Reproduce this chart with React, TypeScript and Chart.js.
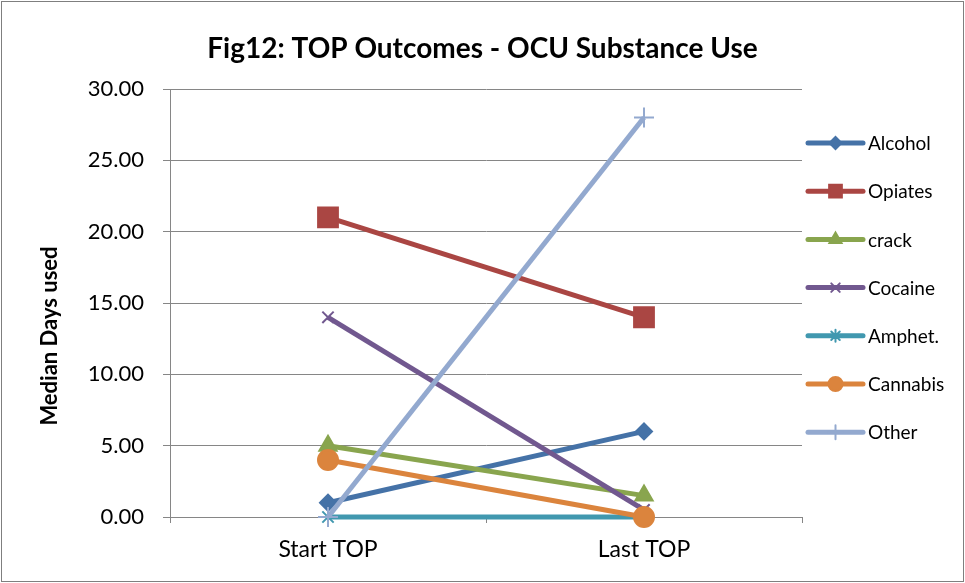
import React, { useEffect, useRef } from "react";
import { Chart, registerables } from "chart.js";
import { drawPoint } from "chart.js/helpers";

Chart.register(...registerables);

const titleText = "Fig12: TOP Outcomes - OCU Substance Use";
const yAxisTitle = "Median Days used";
const categories = ["Start TOP", "Last TOP"];
const seriesNames = ["Alcohol", "Opiates", "crack", "Cocaine", "Amphet.", "Cannabis", "Other"];
const alcohol = [1, 6];
const opiates = [21, 14];
const crack = [5, 1.5];
const cocaine = [14, 0.5];
const amphet = [0, 0];
const cannabis = [4, 0];
const other = [0, 28];
const seriesValues = [alcohol, opiates, crack, cocaine, amphet, cannabis, other];

const colors = ["#4572A7", "#AA4643", "#89A54E", "#71588F", "#4198AF", "#DB843D", "#93A9CF"];
const markers = ["rectRot", "rect", "triangle", "crossRot", "star", "circle", "cross"];
const markerRadius = [8, 14, 10, 8, 8, 10, 10];
const legendRadius = [6, 9, 7, 6, 6, 7, 7];

const FONT = "Lato, 'Open Sans', sans-serif";

const decorPlugin = {
  id: "decor",
  afterDraw(chart: any) {
    const ctx = chart.ctx;
    ctx.save();
    // title
    ctx.fillStyle = "#000000";
    ctx.font = `bold 28px ${FONT}`;
    ctx.textAlign = "center";
    ctx.textBaseline = "alphabetic";
    ctx.fillText(titleText, chart.width / 2, 58);
    // y-axis title
    ctx.save();
    ctx.translate(57, 336);
    ctx.rotate(-Math.PI / 2);
    ctx.font = `bold 22px ${FONT}`;
    ctx.textAlign = "center";
    ctx.textBaseline = "alphabetic";
    ctx.fillText(yAxisTitle, 0, 0);
    ctx.restore();
    // legend
    const x0 = 808;
    const x1 = 863;
    const y0 = 143;
    const step = 48.2;
    chart.data.datasets.forEach((ds: any, i: number) => {
      const y = y0 + step * i;
      ctx.strokeStyle = ds.borderColor;
      ctx.lineWidth = 5;
      ctx.lineCap = "round";
      ctx.beginPath();
      ctx.moveTo(x0, y);
      ctx.lineTo(x1, y);
      ctx.stroke();
      ctx.fillStyle = ds.pointBackgroundColor;
      ctx.strokeStyle = ds.pointBorderColor;
      ctx.lineWidth = 2;
      drawPoint(ctx, { pointStyle: ds.pointStyle, radius: legendRadius[i], rotation: 0, borderWidth: 2 }, (x0 + x1) / 2, y);
      ctx.fillStyle = "#000000";
      ctx.font = `19px ${FONT}`;
      ctx.textBaseline = "middle";
      ctx.textAlign = "left";
      ctx.fillText(seriesNames[i], 868, y + 1);
    });
    ctx.strokeStyle = "#7f7f7f";
    ctx.lineWidth = 1;
    ctx.strokeRect(1.5, 1.5, chart.width - 3, chart.height - 3);
    ctx.restore();
  },
};

export default function App() {
  const ref = useRef<HTMLCanvasElement>(null);
  useEffect(() => {
    if (!ref.current) return;
    const n = seriesNames.length;
    const chart = new Chart(ref.current, {
      type: "line",
      data: {
        labels: categories,
        datasets: seriesNames.map((name, i) => ({
          label: name,
          data: seriesValues[i],
          borderColor: colors[i],
          backgroundColor: colors[i],
          pointBackgroundColor: colors[i],
          pointBorderColor: colors[i],
          pointStyle: markers[i] as any,
          pointRadius: markerRadius[i],
          pointBorderWidth: 2,
          borderWidth: 5,
          tension: 0,
          order: n - i,
          clip: false as any,
        })),
      },
      options: {
        responsive: false,
        animation: false,
        devicePixelRatio: 1,
        layout: { padding: { top: 89, left: 0, right: 163, bottom: 0 } },
        plugins: {
          legend: { display: false },
          tooltip: { enabled: false },
          title: { display: false },
        },
        scales: {
          x: {
            type: "category",
            offset: true,
            grid: {
              display: true,
              offset: true,
              drawOnChartArea: false,
              drawTicks: true,
              tickLength: 6,
              color: "#868686",
            },
            border: { display: true, color: "#868686", width: 1 },
            ticks: {
              color: "#000000",
              font: { family: FONT, size: 23 },
              padding: 13,
              maxRotation: 0,
            },
            afterFit(scale: any) {
              scale.height = 583 - 517;
            },
          },
          y: {
            min: 0,
            max: 30,
            grid: {
              color: "#868686",
              drawTicks: true,
              tickLength: 7,
            },
            border: { display: true, color: "#868686", width: 1 },
            ticks: {
              stepSize: 5,
              color: "#000000",
              font: { family: FONT, size: 22 },
              padding: 19,
              callback: (v: any) => Number(v).toFixed(2),
            },
            afterFit(scale: any) {
              scale.width = 170;
            },
          },
        },
      },
      plugins: [decorPlugin],
    });
    return () => chart.destroy();
  }, []);
  return (
    <div style={{ position: "absolute", left: 0, top: 0, width: 965, height: 583, background: "#fff" }}>
      <canvas ref={ref} width={965} height={583} style={{ display: "block" }} />
    </div>
  );
}
